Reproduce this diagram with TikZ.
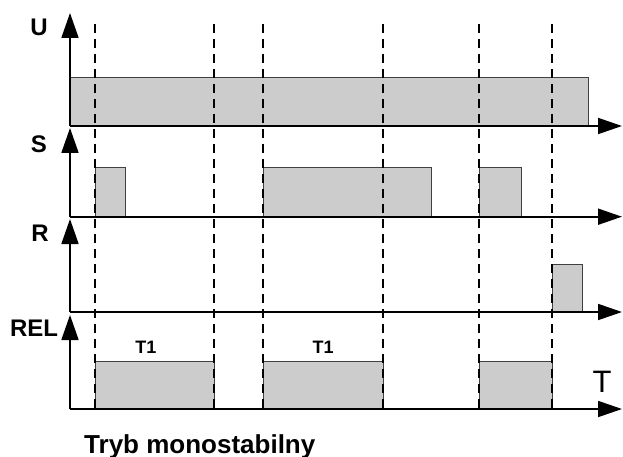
\documentclass[tikz,border=0pt]{standalone}
\usepackage{fontspec}
\setmainfont{Liberation Sans}
\usetikzlibrary{arrows.meta,positioning}
\definecolor{pulsegrey}{RGB}{204,204,204}
\tikzset{
    % time and signal axes
    haxis/.style={line width=1.8pt, -{Triangle[length=24pt,width=16pt]}},
    vaxis/.style={line width=1.8pt, -{Triangle[length=25pt,width=17pt]}},
    % signal pulses
    pulse/.style={draw=black!75, fill=pulsegrey, line width=1pt},
    % switching instants
    marker/.style={line width=1.6pt, dash pattern=on 9pt off 6pt},
    % texts
    siglabel/.style={font=\fontsize{24}{24}\selectfont\bfseries, inner sep=0pt, anchor=base},
    tlabel/.style={font=\fontsize{18}{18}\selectfont\bfseries, inner sep=0pt, anchor=base},
}

\begin{document}
\begin{tikzpicture}[x=1pt,y=-1pt]
  \useasboundingbox (0,0) rectangle (623,457);

  % pulses
  \draw[pulse] (70,126) rectangle (588,78);
  \draw[pulse] (95,216.7) rectangle (125,168);
  \draw[pulse] (263,216.7) rectangle (431,168);
  \draw[pulse] (479,216.7) rectangle (521,168);
  \draw[pulse] (552,312) rectangle (582,264);
  \draw[pulse] (95,409) rectangle (214,361);
  \draw[pulse] (263,409) rectangle (383,361);
  \draw[pulse] (479,409) rectangle (552,361);

  % dashed markers
  \foreach \x [count=\i] in {95,214,263,383,479,552} {
    \coordinate (d\i top) at (\x,24);
    \coordinate (d\i bot) at (\x,409);
    \draw[marker] (d\i top) -- (d\i bot);
  }

  % axes of the four signals
  \foreach \name/\y/\tip in {U/126/13, S/216.7/128, R/312/219, REL/409/315} {
    \coordinate (o\name) at (70,\y);
    \coordinate (e\name) at (622,\y);
    \coordinate (t\name) at (70,\tip);
    \draw[haxis] (o\name) -- (e\name);
    \draw[vaxis] (o\name) -- (t\name);
  }

  % labels
  \node[siglabel] (labU) at (39,35.5) {U};
  \node[siglabel] (labS) at (39,153) {S};
  \node[siglabel] (labR) at (40,241) {R};
  \node[siglabel] (labREL) at (34,336) {REL};
  \node[tlabel] (timeA) at (146,353) {T1};
  \node[tlabel] (timeB) at (323,353) {T1};
  \node[font=\fontsize{31}{31}\selectfont, inner sep=0pt, anchor=base] (labT) at (602,392) {T};
  \node[font=\fontsize{26}{26}\selectfont\bfseries, inner sep=0pt, anchor=base west] (title) at (84,453) {Tryb monostabilny};
\end{tikzpicture}
\end{document}
